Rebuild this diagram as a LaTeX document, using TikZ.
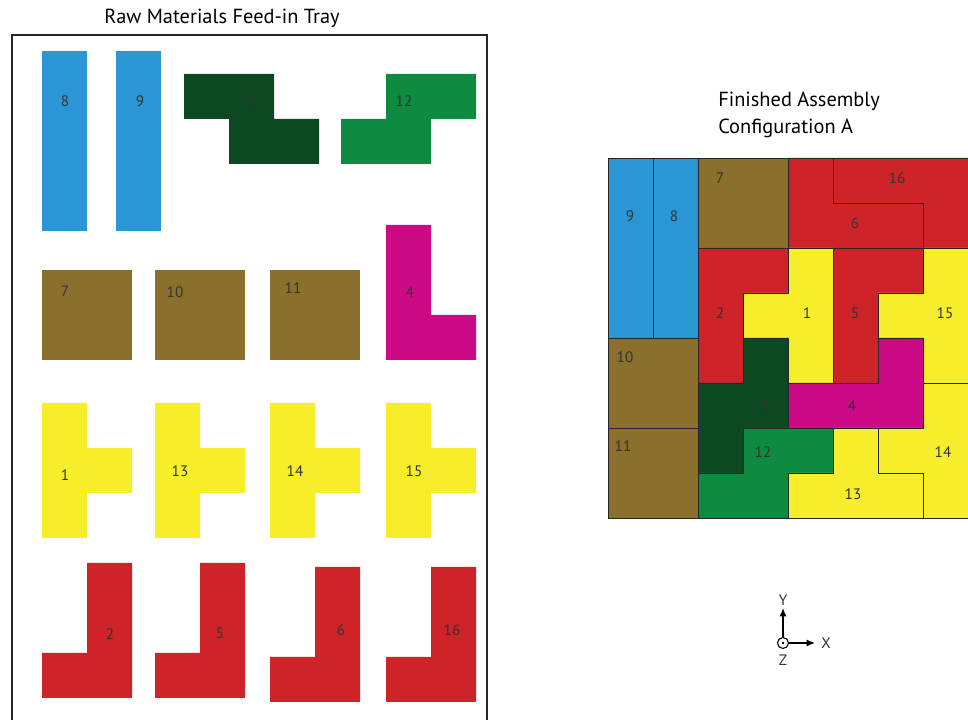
\documentclass[tikz,border=0pt]{standalone}
\usepackage{fontspec}
\setmainfont{PT Sans}
\usetikzlibrary{arrows.meta}
\definecolor{PartBlue}{HTML}{2A96D5}
\definecolor{PartDark}{HTML}{0C4822}
\definecolor{PartGreen}{HTML}{0F8B41}
\definecolor{PartOlive}{HTML}{8A6F2D}
\definecolor{PartMagenta}{HTML}{CC0A86}
\definecolor{PartYellow}{HTML}{F7EE2B}
\definecolor{PartRed}{HTML}{CE2328}

\begin{document}
\begin{tikzpicture}[x=0.025cm,y=-0.025cm,
  part/.style={draw=black!85,line width=0.7pt},
  num/.style={font=\fontsize{10.8}{13}\selectfont,text=black!80,inner sep=0pt},
  heading/.style={font=\fontsize{14.5}{19.2}\selectfont,inner sep=0pt}]
  \useasboundingbox (0,0) rectangle (968,720);
  \clip (0,0) rectangle (968,720);

  % feed-in tray
  \node[heading] (traytitle) at (222,18) {Raw Materials Feed-in Tray};
  \draw[line width=1.4pt,black!85] (12,35) rectangle (487,740);

  % bars
  \fill[PartBlue] (42,51) rectangle (87,231);
  \fill[PartBlue] (116,51) rectangle (161,231);
  \begin{scope}[shift={(184,74)},scale=45]
    \fill[PartDark] (0,0)--(2,0)--(2,1)--(3,1)--(3,2)--(1,2)--(1,1)--(0,1)--cycle;
  \end{scope}
  \begin{scope}[shift={(341,74)},scale=45]
    \fill[PartGreen] (1,0)--(3,0)--(3,1)--(2,1)--(2,2)--(0,2)--(0,1)--(1,1)--cycle;
  \end{scope}

  % squares and the magenta L
  \fill[PartOlive] (42,270) rectangle (132,360);
  \fill[PartOlive] (155,270) rectangle (245,360);
  \fill[PartOlive] (270,270) rectangle (360,360);
  \begin{scope}[shift={(386,225)},scale=45]
    \fill[PartMagenta] (0,0)--(1,0)--(1,2)--(2,2)--(2,3)--(0,3)--cycle;
  \end{scope}

  % T pieces
  \begin{scope}[shift={(42,403)},scale=45]
    \fill[PartYellow] (0,0)--(1,0)--(1,1)--(2,1)--(2,2)--(1,2)--(1,3)--(0,3)--cycle;
  \end{scope}
  \begin{scope}[shift={(155,403)},scale=45]
    \fill[PartYellow] (0,0)--(1,0)--(1,1)--(2,1)--(2,2)--(1,2)--(1,3)--(0,3)--cycle;
  \end{scope}
  \begin{scope}[shift={(270,403)},scale=45]
    \fill[PartYellow] (0,0)--(1,0)--(1,1)--(2,1)--(2,2)--(1,2)--(1,3)--(0,3)--cycle;
  \end{scope}
  \begin{scope}[shift={(386,403)},scale=45]
    \fill[PartYellow] (0,0)--(1,0)--(1,1)--(2,1)--(2,2)--(1,2)--(1,3)--(0,3)--cycle;
  \end{scope}

  % red L pieces
  \begin{scope}[shift={(42,563)},scale=45]
    \fill[PartRed] (1,0)--(2,0)--(2,3)--(0,3)--(0,2)--(1,2)--cycle;
  \end{scope}
  \begin{scope}[shift={(155,563)},scale=45]
    \fill[PartRed] (1,0)--(2,0)--(2,3)--(0,3)--(0,2)--(1,2)--cycle;
  \end{scope}
  \begin{scope}[shift={(270,567)},scale=45]
    \fill[PartRed] (1,0)--(2,0)--(2,3)--(0,3)--(0,2)--(1,2)--cycle;
  \end{scope}
  \begin{scope}[shift={(386,567)},scale=45]
    \fill[PartRed] (1,0)--(2,0)--(2,3)--(0,3)--(0,2)--(1,2)--cycle;
  \end{scope}

  \node[num] (t8) at (65,101) {8};
  \node[num] (t9) at (140,101) {9};
  \node[num] (t3) at (253,101) {3};
  \node[num] (t12) at (404,101) {12};
  \node[num] (t7) at (65,291) {7};
  \node[num] (t10) at (175,292) {10};
  \node[num] (t11) at (293,288) {11};
  \node[num] (t4) at (410,292) {4};
  \node[num] (t1) at (65,475) {1};
  \node[num] (t13) at (180,471) {13};
  \node[num] (t14) at (295,471) {14};
  \node[num] (t15) at (414,471) {15};
  \node[num] (t2) at (110,634) {2};
  \node[num] (t5) at (220,633) {5};
  \node[num] (t6) at (341,630) {6};
  \node[num] (t16) at (452,630) {16};

  % finished assembly, 8x8 cells
  \node[heading,anchor=north west,align=left] (asmtitle) at (718,92)
    {Finished Assembly\\Configuration A};
  \begin{scope}[shift={(608,158)},scale=45]
    \filldraw[part,fill=PartBlue] (0,0) rectangle (1,4);
    \filldraw[part,fill=PartBlue] (1,0) rectangle (2,4);
    \filldraw[part,fill=PartOlive] (2,0) rectangle (4,2);
    \filldraw[part,fill=PartRed] (5,0)--(8,0)--(8,2)--(7,2)--(7,1)--(5,1)--cycle;
    \filldraw[part,fill=PartRed] (4,0)--(5,0)--(5,1)--(7,1)--(7,2)--(4,2)--cycle;
    \filldraw[part,fill=PartRed] (2,2)--(4,2)--(4,3)--(3,3)--(3,5)--(2,5)--cycle;
    \filldraw[part,fill=PartYellow] (4,2)--(5,2)--(5,5)--(4,5)--(4,4)--(3,4)--(3,3)--(4,3)--cycle;
    \filldraw[part,fill=PartRed] (5,2)--(7,2)--(7,3)--(6,3)--(6,5)--(5,5)--cycle;
    \filldraw[part,fill=PartYellow] (7,2)--(8,2)--(8,5)--(7,5)--(7,4)--(6,4)--(6,3)--(7,3)--cycle;
    \filldraw[part,fill=PartMagenta] (6,4)--(7,4)--(7,6)--(4,6)--(4,5)--(6,5)--cycle;
    \filldraw[part,fill=PartOlive] (0,4) rectangle (2,6);
    \filldraw[part,fill=PartOlive] (0,6) rectangle (2,8);
    \filldraw[part,fill=PartDark] (3,4)--(4,4)--(4,6)--(3,6)--(3,7)--(2,7)--(2,5)--(3,5)--cycle;
    \filldraw[part,fill=PartGreen] (3,6)--(5,6)--(5,7)--(4,7)--(4,8)--(2,8)--(2,7)--(3,7)--cycle;
    \filldraw[part,fill=PartYellow] (5,6)--(6,6)--(6,7)--(7,7)--(7,8)--(4,8)--(4,7)--(5,7)--cycle;
    \filldraw[part,fill=PartYellow] (7,5)--(8,5)--(8,8)--(7,8)--(7,7)--(6,7)--(6,6)--(7,6)--cycle;
  \end{scope}

  \node[num] (a9) at (630,216) {9};
  \node[num] (a8) at (674,216) {8};
  \node[num] (a7) at (720,178) {7};
  \node[num] (a16) at (897,178) {16};
  \node[num] (a6) at (855,223) {6};
  \node[num] (a2) at (720,313) {2};
  \node[num] (a1) at (807,313) {1};
  \node[num] (a5) at (855,313) {5};
  \node[num] (a15) at (945,313) {15};
  \node[num] (a10) at (625,357) {10};
  \node[num] (a3) at (765,406) {3};
  \node[num] (a4) at (852,406) {4};
  \node[num] (a11) at (623,446) {11};
  \node[num] (a12) at (763,452) {12};
  \node[num] (a14) at (943,452) {14};
  \node[num] (a13) at (853,494) {13};

  % axes triad
  \node[circle,draw,line width=0.8pt,inner sep=0pt,minimum size=11*0.025cm] (origin) at (783,643) {};
  \fill (origin.center) circle (1.3);
  \coordinate (ytip) at (783,608);
  \coordinate (xtip) at (815,643);
  \draw[line width=0.8pt,-{Latex[length=6pt,width=5pt]}] (origin.north) -- (ytip);
  \draw[line width=0.8pt,-{Latex[length=6pt,width=5pt]}] (origin.east) -- (xtip);
  \node[num] (ylabel) at (783,600) {Y};
  \node[num] (xlabel) at (826,643) {X};
  \node[num] (zlabel) at (783,660) {Z};
\end{tikzpicture}
\end{document}
